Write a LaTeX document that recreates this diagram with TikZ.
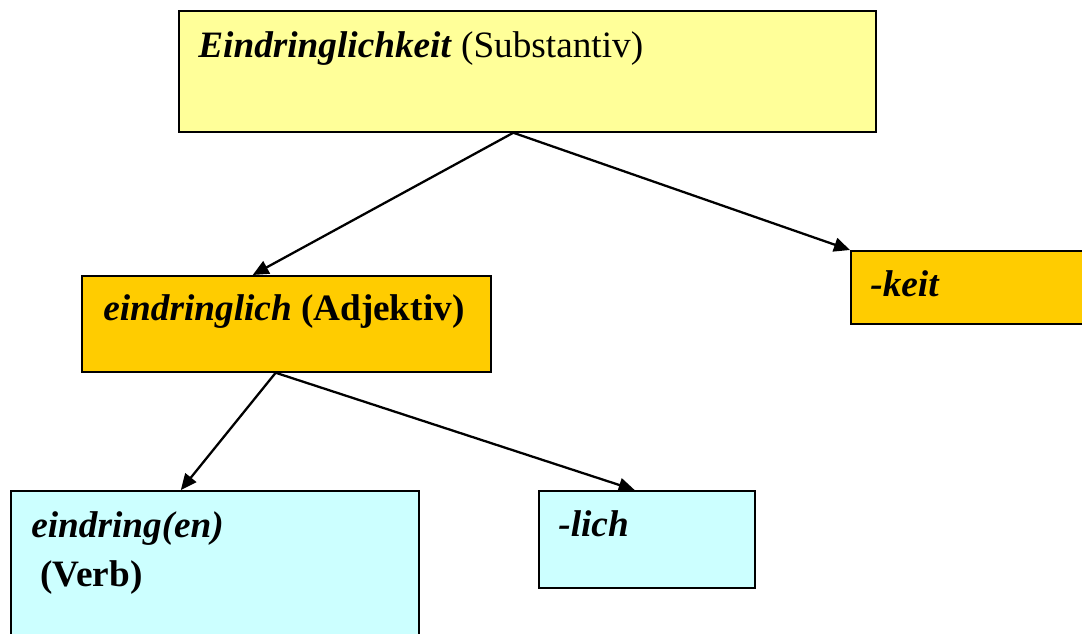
\documentclass[tikz,border=0pt]{standalone}
\usepackage{fontspec}
\setmainfont{Liberation Serif}
\usetikzlibrary{arrows.meta,calc}
\definecolor{paleyellow}{HTML}{FFFF99}
\definecolor{deepyellow}{HTML}{FFCC00}
\definecolor{palecyan}{HTML}{CCFFFF}
\begin{document}
\begin{tikzpicture}
      [
        x = 0.02cm, y = -0.02cm,
        box/.style = {draw, line width=1pt, inner sep=0pt, anchor=north west},
        word/.style = {anchor=base west, inner sep=0pt, font=\fontsize{21.2}{26}\selectfont},
        link/.style = {-{Triangle[length=0.32cm,width=0.28cm]}, line width=1.3pt},
      ]
      \useasboundingbox (0,0) rectangle (1082,633);

      \node[box, fill=paleyellow, minimum width=13.94cm, minimum height=2.42cm] (subst) at (178,10) {};
      \node[box, fill=deepyellow, minimum width=8.18cm, minimum height=1.92cm] (adj) at (81,275) {};
      \node[box, fill=deepyellow, minimum width=4.8cm, minimum height=1.46cm] (keit) at (850,250) {};
      \node[box, fill=palecyan, minimum width=8.16cm, minimum height=3.2cm] (verb) at (10,490) {};
      \node[box, fill=palecyan, minimum width=4.32cm, minimum height=1.94cm] (lich) at (538,490) {};

      \node[word] (substtext) at (198,57) {\textbf{\textit{Eindringlichkeit}} (Substantiv)};
      \node[word] (adjtext) at (103,320) {\textbf{\textit{eindringlich} (Adjektiv)}};
      \node[word] (keittext) at (870,296) {\textbf{\textit{-keit}}};
      \node[word] (verbtext) at (31,537) {\textbf{\textit{eindring(en)}}};
      \node[word] (verbtext2) at (40,586) {\textbf{(Verb)}};
      \node[word] (lichtext) at (558,536) {\textbf{\textit{-lich}}};

      \draw[link] ($(subst.south west)!0.48!(subst.south east)$) -- ($(adj.north west)!0.418!(adj.north east)$);
      \draw[link] ($(subst.south west)!0.48!(subst.south east)$) -- (keit.north west);
      \draw[link] ($(adj.south west)!0.474!(adj.south east)$) -- ($(verb.north west)!0.417!(verb.north east)$);
      \draw[link] ($(adj.south west)!0.474!(adj.south east)$) -- ($(lich.north west)!0.444!(lich.north east)$);

    \end{tikzpicture}
\end{document}
